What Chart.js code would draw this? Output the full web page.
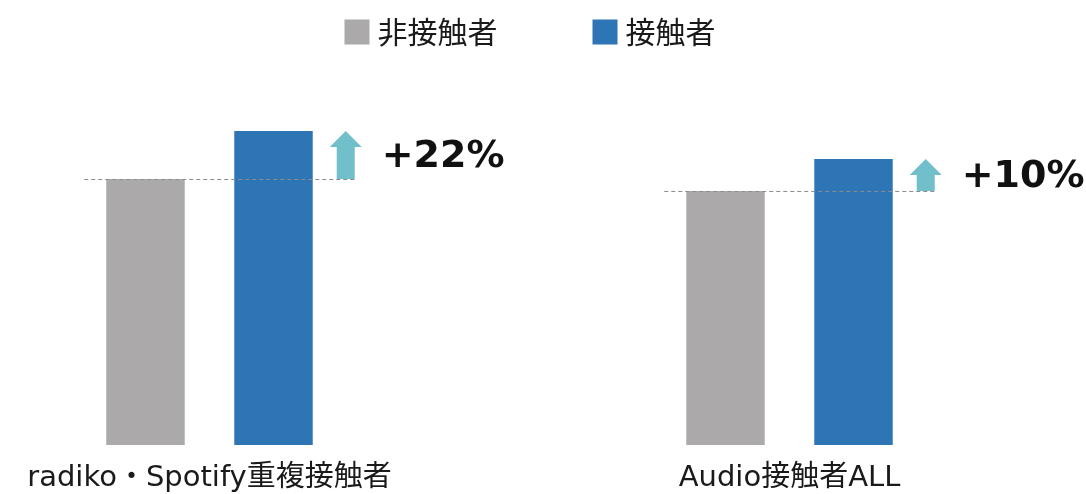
<!DOCTYPE html>
<html>
<head>
<meta charset="utf-8">
<script src="https://cdn.jsdelivr.net/npm/chart.js@4/dist/chart.umd.min.js"></script>
<style>
  html, body { margin: 0; padding: 0; background: #ffffff; }
  #wrap { width: 1086px; height: 494px; position: relative; }
</style>
</head>
<body>
<div id="wrap"><canvas id="c" width="1086" height="494"></canvas></div>
<script>
// ---- data (relative index: non-contact group 1 = 100) ----
const categories = ['radiko・Spotify重複接触者', 'Audio接触者ALL'];
const seriesNames = ['非接触者', '接触者'];
const nonContactValues = [100, 95.5];
const contactValues = [118, 107.5];
const changeLabels = ['+22%', '+10%'];

const GRAY = '#aba9a9';
const BLUE = '#2e75b6';
const TEAL = '#70bfca';
const CJK = '"Noto Sans CJK JP"';

const overlayPlugin = {
  id: 'overlay',
  afterDatasetsDraw(chart) {
    const ctx = chart.ctx;
    const y = chart.scales.y;
    const m0 = chart.getDatasetMeta(0);
    const m1 = chart.getDatasetMeta(1);
    categories.forEach((cat, i) => {
      const g = m0.data[i], b = m1.data[i];
      const yg = y.getPixelForValue(nonContactValues[i]);
      const yb = y.getPixelForValue(contactValues[i]);
      const ax = b.x + b.width / 2 + 33;
      // dashed reference line at the non-contact level
      ctx.save();
      ctx.strokeStyle = '#8c8c8c';
      ctx.lineWidth = 1;
      ctx.setLineDash([4, 3]);
      ctx.beginPath();
      ctx.moveTo(g.x - g.width / 2 - 22, yg + 0.5);
      ctx.lineTo(ax + 10, yg + 0.5);
      ctx.stroke();
      ctx.restore();
      // up arrow
      const headH = 16, headW = 16, shaftW = 9;
      ctx.save();
      ctx.fillStyle = TEAL;
      ctx.beginPath();
      ctx.moveTo(ax, yb);
      ctx.lineTo(ax + headW, yb + headH);
      ctx.lineTo(ax + shaftW, yb + headH);
      ctx.lineTo(ax + shaftW, yg);
      ctx.lineTo(ax - shaftW, yg);
      ctx.lineTo(ax - shaftW, yb + headH);
      ctx.lineTo(ax - headW, yb + headH);
      ctx.closePath();
      ctx.fill();
      ctx.restore();
      // change label
      ctx.save();
      ctx.fillStyle = '#111111';
      ctx.font = 'bold 38px "DejaVu Sans", ' + CJK;
      ctx.textBaseline = 'middle';
      ctx.textAlign = 'left';
      ctx.fillText(changeLabels[i], ax + 36, (yg + yb) / 2 + 2);
      ctx.restore();
    });
  },
  afterDraw(chart) {
    // legend
    const ctx = chart.ctx;
    ctx.save();
    ctx.font = '30px ' + CJK;
    ctx.textBaseline = 'middle';
    ctx.textAlign = 'left';
    const box = 25, gapBoxText = 8, gapItems = 95;
    const widths = chart.data.datasets.map(d => box + gapBoxText + ctx.measureText(d.label).width);
    const total = widths.reduce((a, b) => a + b, 0) + gapItems * (widths.length - 1);
    let x = chart.width / 2 - total / 2 - 13;
    const cy = 32;
    chart.data.datasets.forEach((d, i) => {
      ctx.fillStyle = d.backgroundColor;
      ctx.fillRect(x, cy - box / 2, box, box);
      ctx.fillStyle = '#1a1a1a';
      ctx.fillText(d.label, x + box + gapBoxText, cy);
      x += widths[i] + gapItems;
    });
    ctx.restore();
  }
};

new Chart(document.getElementById('c'), {
  type: 'bar',
  data: {
    labels: categories,
    datasets: [
      { label: seriesNames[0], data: nonContactValues, backgroundColor: GRAY, clip: false },
      { label: seriesNames[1], data: contactValues, backgroundColor: BLUE, clip: false }
    ]
  },
  options: {
    responsive: false,
    animation: false,
    devicePixelRatio: 1,
    layout: { padding: { top: 72.6, left: 209.5, right: 296.5, bottom: 0 } },
    categoryPercentage: 0.4414,
    barPercentage: 0.613,
    plugins: {
      legend: { display: false },
      tooltip: { enabled: false }
    },
    scales: {
      x: {
        offset: false,
        grid: { display: false, drawTicks: false },
        border: { display: false },
        ticks: {
          color: '#1a1a1a',
          font: { family: '"DejaVu Sans", ' + CJK, size: 29 },
          padding: 16,
          maxRotation: 0,
          autoSkip: false
        },
        afterFit(s) { s.height = 49; }
      },
      y: {
        display: false,
        min: 0,
        max: 140
      }
    }
  },
  plugins: [overlayPlugin]
});
</script>
</body>
</html>
